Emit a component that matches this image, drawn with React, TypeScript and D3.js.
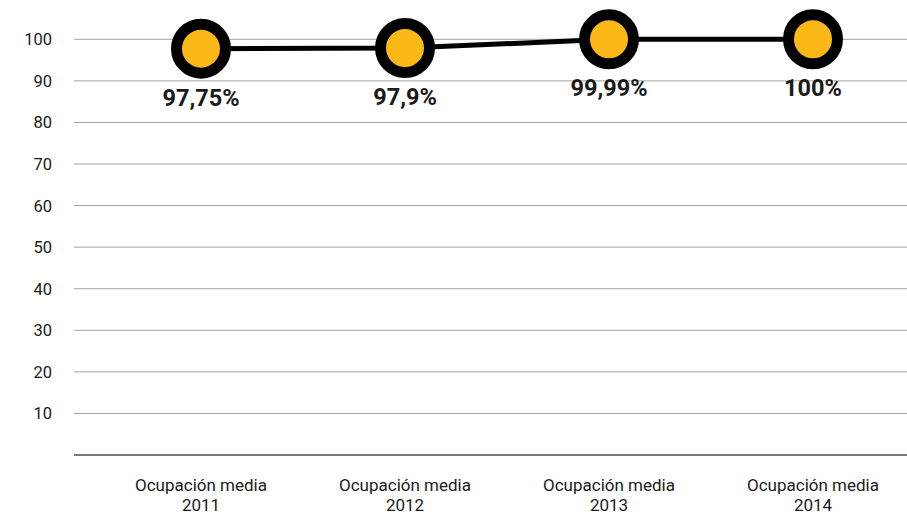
import React from "react";
import * as d3 from "d3";

const categories = ["Ocupación media 2011", "Ocupación media 2012", "Ocupación media 2013", "Ocupación media 2014"];
const values = [97.75, 97.9, 99.99, 100];
const valueLabels = ["97,75%", "97,9%", "99,99%", "100%"];
const yTicks = [10, 20, 30, 40, 50, 60, 70, 80, 90, 100];

const W = 907;
const H = 517;
const FONT = "Roboto, 'Liberation Sans', Arial, sans-serif";

export default function App() {
  const x = d3.scaleBand<string>().domain(categories).range([99, 915]);
  const y = d3.scaleLinear().domain([0, 100]).range([455, 39.3]);
  const cx = (c: string) => (x(c) as number) + x.bandwidth() / 2;
  const line = d3
    .line<number>()
    .x((_, i) => cx(categories[i]))
    .y((d) => y(d));

  return (
    <svg
      width={W}
      height={H}
      style={{ position: "absolute", left: 0, top: 0, background: "#fff" }}
      fontFamily={FONT}
    >
      {yTicks.map((t) => (
        <g key={t}>
          <line x1={74} x2={907} y1={y(t)} y2={y(t)} stroke="#a0a0a0" strokeWidth={1} />
          <text x={52} y={y(t)} dy="0.36em" textAnchor="end" fontSize={16.5} fill="#1a1a1a">
            {t}
          </text>
        </g>
      ))}
      <line x1={74} x2={907} y1={y(0)} y2={y(0)} stroke="#7a7a7a" strokeWidth={2} />
      {categories.map((c) => {
        const parts = c.split(" ");
        const year = parts.pop();
        return (
          <text key={c} x={cx(c)} textAnchor="middle" fontSize={17} fill="#1a1a1a">
            <tspan x={cx(c)} y={491}>{parts.join(" ")}</tspan>
            <tspan x={cx(c)} y={511}>{year}</tspan>
          </text>
        );
      })}
      <path d={line(values) || ""} fill="none" stroke="#000" strokeWidth={5} />
      {values.map((v, i) => (
        <circle
          key={i}
          cx={cx(categories[i])}
          cy={y(v)}
          r={24.5}
          fill="#FBB817"
          stroke="#000"
          strokeWidth={11}
        />
      ))}
      {values.map((v, i) => (
        <text
          key={i}
          x={cx(categories[i])}
          y={y(v) + 57}
          textAnchor="middle"
          fontSize={23.5}
          fontWeight="bold"
          fill="#1a1a1a"
        >
          {valueLabels[i]}
        </text>
      ))}
    </svg>
  );
}
